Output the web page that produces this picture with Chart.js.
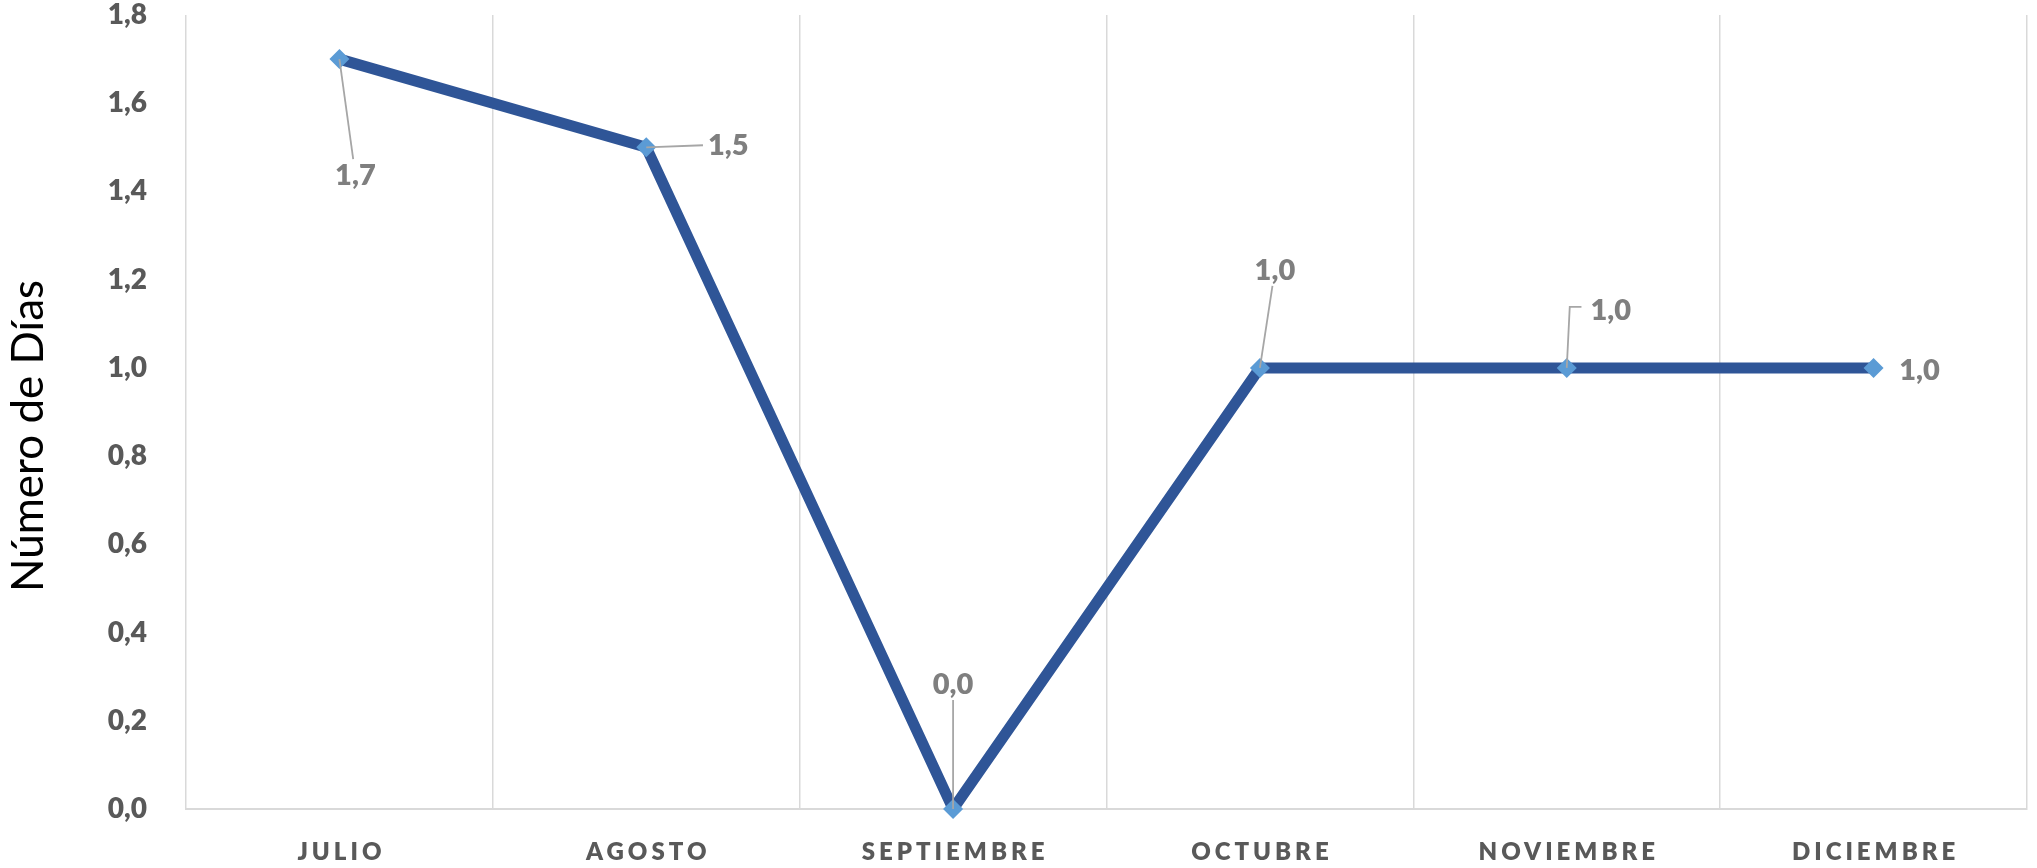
<!DOCTYPE html>
<html>
<head>
<meta charset="utf-8">
<script src="https://cdn.jsdelivr.net/npm/chart.js@4.4.1/dist/chart.umd.min.js"></script>
<style>
    html, body { margin: 0; padding: 0; background: #ffffff; }
    #wrap { width: 2037px; height: 868px; }
</style>
</head>
<body>
<div id="wrap"><canvas id="chart" width="2037" height="868"></canvas></div>
<script>
const months = ["JULIO", "AGOSTO", "SEPTIEMBRE", "OCTUBRE", "NOVIEMBRE", "DICIEMBRE"];
const days = [1.7, 1.5, 0.0, 1.0, 1.0, 1.0];
const yMin = 0;
const yMax = 1.8;
const yStep = 0.2;
const yTitle = "Número de Días";

// where each data label sits relative to its point (px), and how its leader line goes
const labelOffsets = [[16, 116], [82, -3], [0, -125], [15, -98], [44, -58], [46, 2]];
const leaderKinds = ["straight", "straight", "straight", "straight", "elbow", "none"];

function fmt(v) {
    return v.toFixed(1).replace(".", ",");
}

const labelsPlugin = {
    id: "labels",
    afterDatasetsDraw(chart) {
        const ctx = chart.ctx;
        const meta = chart.getDatasetMeta(0);

        ctx.save();
        ctx.font = "800 29px Lato";
        ctx.textAlign = "center";
        ctx.textBaseline = "middle";

        meta.data.forEach((pt, i) => {
            const text = fmt(days[i]);
            const cx = pt.x + labelOffsets[i][0];
            const cy = pt.y + labelOffsets[i][1];
            const halfW = ctx.measureText(text).width / 2 + 5;
            const halfH = 16;

            ctx.strokeStyle = "#A6A6A6";
            ctx.lineWidth = 1.8;
            if (leaderKinds[i] === "straight") {
                // end the line where it meets the label box
                const dx = pt.x - cx;
                const dy = pt.y - cy;
                const t = Math.min(halfW / Math.abs(dx || 0.001), halfH / Math.abs(dy || 0.001));
                ctx.beginPath();
                ctx.moveTo(pt.x, pt.y);
                ctx.lineTo(cx + dx * t, cy + dy * t);
                ctx.stroke();
            } else if (leaderKinds[i] === "elbow") {
                const ey = cy - 3;
                ctx.beginPath();
                ctx.moveTo(pt.x, pt.y);
                ctx.lineTo(pt.x + 3, ey);
                ctx.lineTo(cx - halfW - 4, ey);
                ctx.stroke();
            }

            ctx.fillStyle = "#7F7F7F";
            ctx.fillText(text, cx, cy + 1);
        });
        ctx.restore();
    },
    afterDraw(chart) {
        const ctx = chart.ctx;
        const xScale = chart.scales.x;

        // month names, spaced out like the original
        ctx.save();
        ctx.font = "800 24px Lato";
        ctx.fillStyle = "#595959";
        ctx.textAlign = "center";
        ctx.textBaseline = "middle";
        ctx.letterSpacing = "4px";
        months.forEach((m, i) => {
            ctx.fillText(m, xScale.getPixelForValue(i) + 2, 852);
        });
        ctx.restore();

        // axis title
        ctx.save();
        ctx.translate(29, 436);
        ctx.rotate(-Math.PI / 2);
        ctx.font = "44px Lato";
        ctx.fillStyle = "#000000";
        ctx.textAlign = "center";
        ctx.textBaseline = "middle";
        ctx.fillText(yTitle, 0, 0);
        ctx.restore();
    }
};

new Chart(document.getElementById("chart"), {
    type: "line",
    data: {
        labels: months,
        datasets: [{
            data: days,
            borderColor: "#2F5597",
            borderWidth: 11,
            borderJoinStyle: "round",
            tension: 0,
            pointStyle: "rectRot",
            pointRadius: 10,
            pointBackgroundColor: "#5B9BD5",
            pointBorderWidth: 0,
            clip: false
        }]
    },
    options: {
        responsive: false,
        animation: false,
        devicePixelRatio: 1,
        layout: { padding: { top: 15, right: 2, left: 0, bottom: 0 } },
        plugins: {
            legend: { display: false },
            tooltip: { enabled: false }
        },
        scales: {
            x: {
                offset: true,
                grid: { offset: true, color: "#D9D9D9", lineWidth: 1.5, drawTicks: false },
                border: { color: "#D9D9D9", width: 2 },
                ticks: { display: false },
                afterFit: (scale) => { scale.height = 59; }
            },
            y: {
                min: yMin,
                max: yMax,
                grid: { display: false },
                border: { display: false },
                ticks: {
                    stepSize: yStep,
                    padding: 31,
                    color: "#595959",
                    font: { family: "Lato", size: 28, weight: "800" },
                    callback: (v) => fmt(v)
                },
                afterFit: (scale) => {
                    scale.width = 186;
                    scale.paddingTop = 0;
                    scale.paddingBottom = 0;
                }
            }
        }
    },
    plugins: [labelsPlugin]
});
</script>
</body>
</html>
